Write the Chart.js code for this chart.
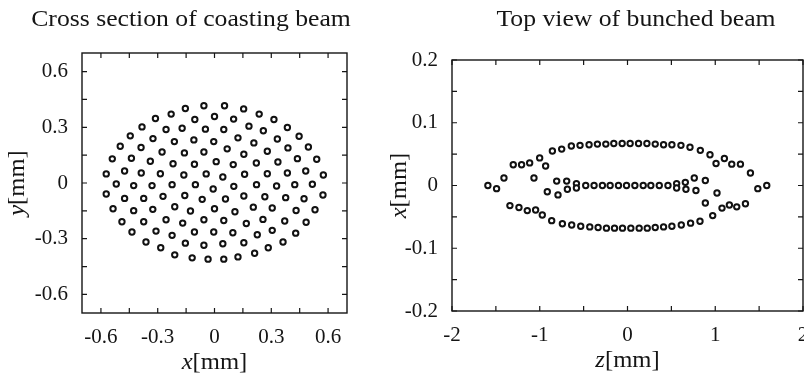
<!DOCTYPE html>
<html>
<head>
<meta charset="utf-8">
<script src="https://cdn.jsdelivr.net/npm/chart.js@4/dist/chart.umd.min.js"></script>
<style>
  html, body { margin:0; padding:0; background:#fff; overflow:hidden; width:804px; height:379px; }
  canvas { position:absolute; top:0; }
  #c1 { left:0; }
  #c2 { left:380px; }
</style>
</head>
<body>
<canvas id="c1" width="382" height="379"></canvas>
<canvas id="c2" width="512" height="379"></canvas>
<script>
// ---------- Data: cross section of coasting beam (x [mm], y [mm]) ----------
const coastX = [
  -0.154,-0.056,0.053,0.154,
  -0.229,0.236,
  -0.312,-0.104,0.000,0.101,0.314,
  -0.383,-0.256,-0.171,-0.048,0.049,0.182,0.258,0.385,
  -0.445,-0.325,-0.212,-0.109,-0.004,0.124,0.208,0.332,0.447,
  -0.498,-0.388,-0.277,-0.159,-0.056,0.067,0.155,0.279,0.388,0.496,
  -0.540,-0.439,-0.339,-0.219,-0.106,0.009,0.099,0.221,0.335,0.438,0.540,
  -0.572,-0.475,-0.387,-0.286,-0.162,-0.044,0.044,0.159,0.279,0.385,0.482,0.575,
  -0.519,-0.427,-0.330,-0.224,-0.101,-0.007,0.102,0.222,0.328,0.424,0.517,
  -0.572,-0.475,-0.374,-0.272,-0.157,-0.065,0.058,0.155,0.266,0.376,0.473,0.573,
  -0.536,-0.427,-0.326,-0.210,-0.127,0.000,0.108,0.205,0.305,0.431,0.531,
  -0.489,-0.374,-0.256,-0.168,-0.056,0.049,0.168,0.256,0.371,0.484,
  -0.436,-0.309,-0.224,-0.106,-0.004,0.097,0.226,0.305,0.429,
  -0.362,-0.284,-0.154,-0.056,0.044,0.155,0.284,0.362,
  -0.210,-0.118,-0.034,0.049,0.124,0.212
];
const coastY = [
  0.401,0.416,0.416,0.399,
  0.371,0.371,
  0.347,0.342,0.358,0.344,0.342,
  0.302,0.288,0.295,0.290,0.288,0.306,0.281,0.299,
  0.254,0.239,0.223,0.232,0.223,0.243,0.216,0.237,0.252,
  0.198,0.191,0.167,0.162,0.167,0.184,0.155,0.171,0.189,0.194,
  0.130,0.133,0.117,0.104,0.101,0.115,0.099,0.108,0.113,0.131,0.128,
  0.049,0.065,0.054,0.050,0.043,0.049,0.032,0.047,0.050,0.054,0.065,0.043,
  -0.005,-0.014,-0.014,-0.009,-0.009,-0.032,-0.018,-0.009,-0.016,-0.009,-0.007,
  -0.059,-0.083,-0.083,-0.072,-0.067,-0.088,-0.086,-0.070,-0.074,-0.079,-0.085,-0.065,
  -0.139,-0.149,-0.142,-0.128,-0.151,-0.139,-0.155,-0.130,-0.135,-0.148,-0.144,
  -0.209,-0.209,-0.198,-0.216,-0.198,-0.202,-0.218,-0.196,-0.205,-0.211,
  -0.264,-0.259,-0.282,-0.264,-0.264,-0.268,-0.279,-0.255,-0.270,
  -0.318,-0.349,-0.324,-0.335,-0.327,-0.322,-0.349,-0.318,
  -0.387,-0.403,-0.410,-0.410,-0.398,-0.378
];

// ---------- Data: top view of bunched beam (z [mm], x [mm]) ----------
const bunchZ = [
  // outer upper arc with wings
  -1.591,-1.492,-1.408,-1.302,-1.207,-1.115,-1.001,-0.933,-1.066,-0.856,
  -0.750,-0.640,-0.541,-0.438,-0.343,-0.247,-0.156,-0.061,0.030,0.126,
  0.221,0.316,0.411,0.506,0.609,0.712,0.830,0.940,1.009,1.104,
  1.188,1.287,1.401,1.485,1.587,
  // central line
  -0.914,-0.807,-0.792,-0.693,-0.685,-0.582,-0.582,-0.476,-0.381,-0.286,
  -0.198,-0.103,-0.011,0.084,0.179,0.266,0.362,0.461,0.560,0.560,
  0.659,0.666,0.761,0.780,0.887,1.020,
  // outer lower arc with wings
  -1.340,-1.237,-1.142,-1.047,-0.971,-0.864,-0.742,-0.636,-0.533,-0.430,
  -0.335,-0.240,-0.148,-0.057,0.038,0.133,0.225,0.316,0.411,0.506,
  0.613,0.719,0.826,0.887,0.971,1.077,1.161,1.245,1.344
];
const bunchX = [
  0,-0.005,0.012,0.033,0.033,0.036,0.044,0.031,0.012,0.055,
  0.058,0.063,0.064,0.065,0.066,0.066,0.067,0.067,0.067,0.067,
  0.067,0.066,0.065,0.065,0.064,0.061,0.056,0.049,0.035,0.043,
  0.034,0.034,0.020,-0.005,0,
  -0.010,0.007,-0.015,0.007,-0.006,0.003,-0.004,0,0,0,
  0,0,0,0,0,0,0,0,0.003,-0.004,
  0.005,-0.006,0.012,-0.008,0.008,-0.012,
  -0.032,-0.035,-0.040,-0.039,-0.047,-0.056,-0.061,-0.063,-0.065,-0.066,
  -0.067,-0.068,-0.068,-0.068,-0.068,-0.068,-0.068,-0.067,-0.066,-0.065,
  -0.063,-0.060,-0.057,-0.028,-0.048,-0.036,-0.031,-0.034,-0.029
];

// ---------- Ticks ----------
const coastXTicks  = [-0.6,-0.45,-0.3,-0.15,0,0.15,0.3,0.45,0.6];
const coastXLabels = ['-0.6','','-0.3','','0','','0.3','','0.6'];
const coastYTicks  = [-0.6,-0.45,-0.3,-0.15,0,0.15,0.3,0.45,0.6];
const coastYLabels = ['-0.6','','-0.3','','0','','0.3','','0.6'];
const bunchZTicks  = [-2,-1.5,-1,-0.5,0,0.5,1,1.5,2];
const bunchZLabels = ['-2','','-1','','0','','1','','2'];
const bunchXTicks  = [-0.2,-0.15,-0.1,-0.05,0,0.05,0.1,0.15,0.2];
const bunchXLabels = ['-0.2','','-0.1','','0','','0.1','','0.2'];

const titles = ['Cross section of coasting beam', 'Top view of bunched beam'];

// ---------- Styling ----------
const SERIF = "'Liberation Serif', 'Times New Roman', serif";
const INK = '#151515';
const STRETCH = 1.07;

const framePlugin = {
  id: 'frameTicks',
  afterDraw(chart) {
    const {ctx, chartArea: a, scales} = chart;
    const L = 5;
    ctx.save();
    ctx.strokeStyle = INK;
    ctx.lineWidth = 1.2;
    ctx.beginPath();
    scales.x.ticks.forEach(t => {
      const p = scales.x.getPixelForValue(t.value);
      ctx.moveTo(p, a.bottom); ctx.lineTo(p, a.bottom - L);
      ctx.moveTo(p, a.top);    ctx.lineTo(p, a.top + L);
    });
    scales.y.ticks.forEach(t => {
      const p = scales.y.getPixelForValue(t.value);
      ctx.moveTo(a.left, p);  ctx.lineTo(a.left + L, p);
      ctx.moveTo(a.right, p); ctx.lineTo(a.right - L, p);
    });
    ctx.stroke();
    ctx.lineWidth = 1.4;
    ctx.strokeRect(a.left, a.top, a.right - a.left, a.bottom - a.top);
    ctx.restore();
  }
};

function drawParts(ctx, parts, size, x, y, rotate) {
  ctx.save();
  ctx.translate(x, y);
  if (rotate) ctx.rotate(-Math.PI / 2);
  ctx.scale(STRETCH, 1);
  ctx.textBaseline = 'middle';
  ctx.fillStyle = INK;
  let total = 0;
  parts.forEach(p => {
    ctx.font = (p[1] ? 'italic ' : '') + size + 'px ' + SERIF;
    p.w = ctx.measureText(p[0]).width;
    total += p.w;
  });
  let cx = -total / 2;
  parts.forEach(p => {
    ctx.font = (p[1] ? 'italic ' : '') + size + 'px ' + SERIF;
    ctx.fillText(p[0], cx, 0);
    cx += p.w;
  });
  ctx.restore();
}

const textPlugin = {
  id: 'panelText',
  afterDraw(chart, args, opts) {
    const a = chart.chartArea;
    const ctx = chart.ctx;
    // panel title
    drawParts(ctx, [[opts.title, false]], opts.titleSize, opts.titleX, opts.titleY, false);
    // axis titles
    drawParts(ctx, opts.x.parts, opts.size, (a.left + a.right) / 2, a.bottom + opts.x.offset, false);
    drawParts(ctx, opts.y.parts, opts.size, a.left - opts.y.offset, (a.top + a.bottom) / 2, true);
  }
};

function makeChart(canvasId, cfg) {
  const tickFont = {family: SERIF, size: 21};
  return new Chart(document.getElementById(canvasId), {
    type: 'scatter',
    data: {
      datasets: [{
        data: cfg.xs.map((v, i) => ({x: v, y: cfg.ys[i]})),
        pointRadius: 2.7,
        pointHoverRadius: 2.7,
        pointBorderWidth: 2,
        pointBorderColor: '#111',
        pointBackgroundColor: '#fff',
        showLine: false
      }]
    },
    options: {
      responsive: false,
      animation: false,
      events: [],
      layout: {padding: {left: 0, right: cfg.padRight, top: cfg.padTop, bottom: 0}},
      plugins: {
        legend: {display: false},
        tooltip: {enabled: false},
        title: {display: false},
        panelText: {
          title: cfg.title, titleSize: 24, titleX: cfg.titleX, titleY: 20,
          size: 23, x: {parts: cfg.xTitle, offset: 50}, y: {parts: cfg.yTitle, offset: cfg.yTitleOffset}
        }
      },
      scales: {
        x: {
          type: 'linear', min: cfg.xMin, max: cfg.xMax,
          afterBuildTicks: s => { s.ticks = cfg.xTicks.map(v => ({value: v})); },
          afterFit: s => { s.height = cfg.xAxisH; },
          ticks: {callback: (v, i) => cfg.xLabels[i], font: tickFont, color: INK, padding: 12, maxRotation: 0, autoSkip: false},
          grid: {display: false, drawTicks: false},
          border: {display: false}
        },
        y: {
          type: 'linear', min: cfg.yMin, max: cfg.yMax,
          afterBuildTicks: s => { s.ticks = cfg.yTicks.map(v => ({value: v})); },
          afterFit: s => { s.width = cfg.yAxisW; },
          ticks: {callback: (v, i) => cfg.yLabels[i], font: tickFont, color: INK, padding: 14, autoSkip: false},
          grid: {display: false, drawTicks: false},
          border: {display: false}
        }
      }
    },
    plugins: [framePlugin, textPlugin]
  });
}

makeChart('c1', {
  xs: coastX, ys: coastY, title: titles[0], titleX: 191,
  xMin: -0.7, xMax: 0.7, yMin: -0.7, yMax: 0.7,
  xTicks: coastXTicks, xLabels: coastXLabels, yTicks: coastYTicks, yLabels: coastYLabels,
  padRight: 35, padTop: 53, xAxisH: 66, yAxisW: 82, yTitleOffset: 64,
  xTitle: [['x', true], ['[mm]', false]], yTitle: [['y', true], ['[mm]', false]]
});

makeChart('c2', {
  xs: bunchZ, ys: bunchX, title: titles[1], titleX: 256,
  xMin: -2, xMax: 2, yMin: -0.2, yMax: 0.2,
  xTicks: bunchZTicks, xLabels: bunchZLabels, yTicks: bunchXTicks, yLabels: bunchXLabels,
  padRight: 89, padTop: 60, xAxisH: 68, yAxisW: 72, yTitleOffset: 52,
  xTitle: [['z', true], ['[mm]', false]], yTitle: [['x', true], ['[mm]', false]]
});
</script>
</body>
</html>
